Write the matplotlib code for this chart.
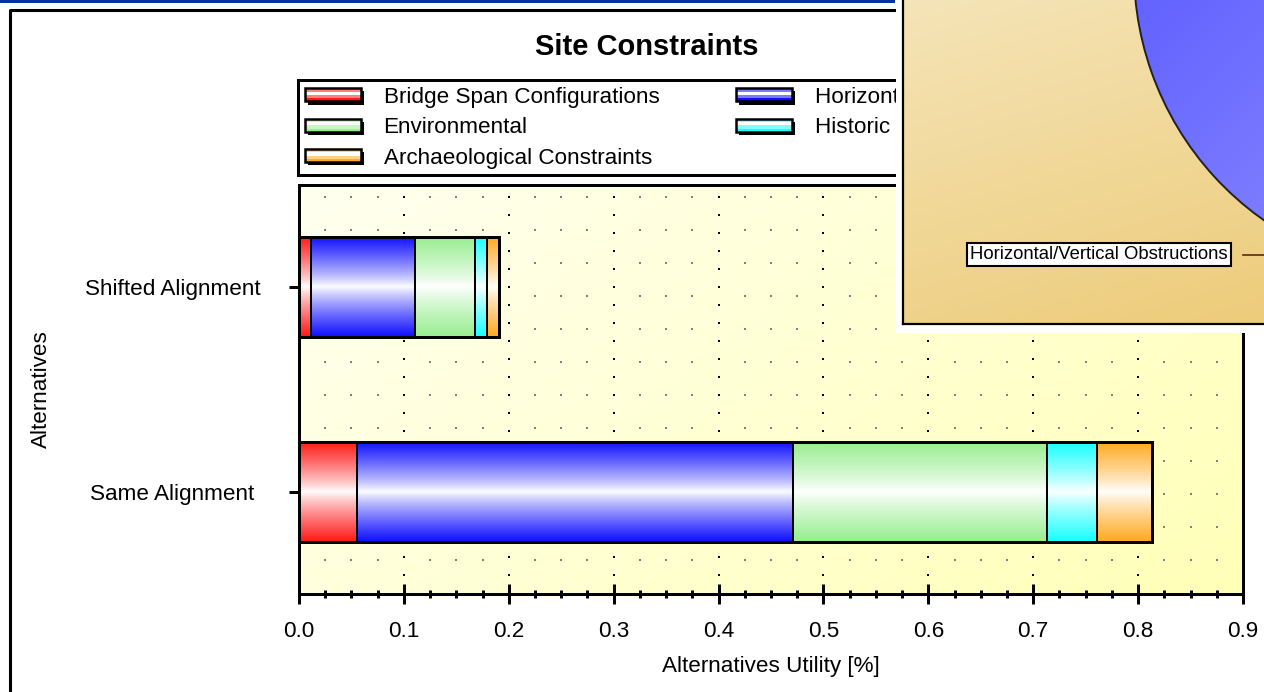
import numpy as np
import matplotlib
matplotlib.use("Agg")
import matplotlib.pyplot as plt
import matplotlib.colors as mcolors
from matplotlib.patches import Rectangle
from matplotlib.lines import Line2D
from matplotlib.legend_handler import HandlerBase
from matplotlib.ticker import MultipleLocator

plt.rcParams['font.family'] = ['Liberation Sans', 'DejaVu Sans']
plt.rcParams['lines.scale_dashes'] = False

# data
alternatives = ['Same Alignment', 'Shifted Alignment']
criteria = ['Bridge Span Configurations', 'Horizontal/Vertical Obstructions',
            'Environmental', 'Historic Properties', 'Archaeological Constraints']
colors = ['#ff1a1a', '#1010ff', '#98ee90', '#1affff', '#ffaa22']
same_vals = [0.055, 0.416, 0.242, 0.048, 0.052]
shifted_vals = [0.011, 0.100, 0.057, 0.011, 0.012]
legend_order = [0, 2, 4, 1, 3]
xticks = [0.0, 0.1, 0.2, 0.3, 0.4, 0.5, 0.6, 0.7, 0.8, 0.9]

W, H = 1264, 692
PX = 0.72  # points per pixel at dpi 100
FS = 16.2


def fx(x):
    return x / W


def fy(y):
    return 1 - y / H


def gradient(color, n=64):
    # full colour at top and bottom edge, white in the middle
    rgb = np.array(mcolors.to_rgb(color))
    t = np.abs(np.linspace(-1, 1, n))[:, None] ** 0.85
    return ((1 - t) + t * rgb)[:, None, :]


class GradHandler(HandlerBase):
    def create_artists(self, legend, orig_handle, xdescent, ydescent,
                       width, height, fontsize, trans):
        c = np.array(mcolors.to_rgb(orig_handle.get_facecolor()))
        h = 9.5
        x0 = -xdescent
        y0 = -ydescent + (height - h) / 2
        arts = [Rectangle((x0 + 2.2, y0 - 2.2), width, h, facecolor='black',
                          edgecolor='none', transform=trans)]
        stripes = [c, 1 - (1 - c) * 0.55, (1, 1, 1), 1 - (1 - c) * 0.55]
        sh = h / len(stripes)
        for k, sc in enumerate(stripes):
            arts.append(Rectangle((x0, y0 + k * sh), width, sh, facecolor=sc,
                                  edgecolor='none', transform=trans))
        arts.append(Rectangle((x0, y0), width, h, facecolor='none',
                              edgecolor='black', lw=1.8, transform=trans))
        return arts


fig = plt.figure(figsize=(W / 100, H / 100), dpi=100)

# window frame bits
fig.add_artist(Rectangle((0, fy(3)), fx(895), 3 / H, transform=fig.transFigure,
                         facecolor='#003399', edgecolor='none'))
fig.add_artist(Line2D([fx(10), fx(10), 1], [0, fy(10), fy(10)],
                      transform=fig.transFigure, color='black', lw=2.2))

ax = fig.add_axes([fx(299), fy(594), (1243 - 299) / W, (594 - 185) / H])

# plot background gradient
gx, gy = np.meshgrid(np.linspace(0, 1, 200), np.linspace(0, 1, 100))
g = np.clip(0.65 * gx + 0.35 * gy, 0, 1)[..., None]
bg = (1 - g) * np.array([1.0, 1.0, 0.94]) + g * np.array([1.0, 1.0, 0.72])
ax.imshow(bg, extent=[0, 1, 0, 1], transform=ax.transAxes, aspect='auto',
          zorder=0.1, interpolation='bilinear')

values = np.array([same_vals, shifted_vals])
ypos = np.arange(len(alternatives))
left = np.zeros(len(alternatives))
for j in range(len(criteria)):
    bars = ax.barh(ypos, values[:, j], left=left, height=0.49, facecolor='none',
                   edgecolor='black', linewidth=2 * PX, zorder=4)
    for b in bars:
        ax.imshow(gradient(colors[j]),
                  extent=[b.get_x(), b.get_x() + b.get_width(),
                          b.get_y(), b.get_y() + b.get_height()],
                  aspect='auto', zorder=3, interpolation='bilinear')
    left += values[:, j]
ax.barh(ypos, values.sum(axis=1), height=0.49, facecolor='none',
        edgecolor='black', linewidth=3 * PX, zorder=5)

ax.set_xlim(0, 0.9)
ax.set_ylim(-0.5, 1.5)
ax.set_xticks(xticks)
ax.set_xticklabels([f'{v:.1f}' for v in xticks])
ax.xaxis.set_minor_locator(MultipleLocator(0.025))
ax.set_yticks(ypos)
ax.set_yticklabels(alternatives)
for lbl in ax.get_yticklabels():
    lbl.set_ha('center')

ax.grid(which='major', axis='x', color='black', lw=2 * PX,
        linestyle=(0, (2 * PX, 16 * PX)), zorder=0.5)
ax.grid(which='minor', axis='x', color='#808080', lw=2 * PX,
        linestyle=(0, (2 * PX, 31 * PX)), zorder=0.5)
ax.grid(False, axis='y')

ax.tick_params(axis='x', which='major', direction='inout', length=20 * PX,
               width=3 * PX, pad=12, labelsize=FS)
ax.tick_params(axis='x', which='minor', direction='inout', length=8 * PX,
               width=3 * PX)
ax.tick_params(axis='y', direction='out', length=10 * PX, width=3 * PX,
               pad=84, labelsize=FS)
for s in ax.spines.values():
    s.set_linewidth(3 * PX)
    s.set_color('black')

# top ticks point inward only
top = ax.secondary_xaxis('top')
top.set_xticks(xticks)
top.xaxis.set_minor_locator(MultipleLocator(0.025))
top.tick_params(which='major', direction='in', length=10 * PX, width=3 * PX,
                labeltop=False)
top.tick_params(which='minor', direction='in', length=5 * PX, width=3 * PX)
top.spines['top'].set_linewidth(3 * PX)

ax.set_xlabel('Alternatives Utility [%]', fontsize=FS, labelpad=10)
ax.set_ylabel('Alternatives', fontsize=FS)
ax.yaxis.set_label_coords(-0.262, 0.5)

fig.text(fx(647), fy(47), 'Site Constraints', fontsize=21, fontweight='bold',
         ha='center', va='center')

handles = [Rectangle((0, 0), 1, 1, facecolor=colors[i]) for i in legend_order]
labels = [criteria[i] for i in legend_order]
leg = fig.legend(handles, labels, loc='upper left',
                 bbox_to_anchor=(fx(298), fy(80)), ncol=2, fontsize=FS,
                 handler_map={Rectangle: GradHandler()}, frameon=True,
                 fancybox=False, framealpha=1, edgecolor='black',
                 handlelength=2.5, handletextpad=1.0, columnspacing=3.4,
                 labelspacing=0.42, borderpad=0.3, borderaxespad=0)
leg.get_frame().set_linewidth(3 * PX)

# pie window laid over the top right corner
fig.add_artist(Rectangle((fx(896), fy(333)), 1 - fx(896), 333 / H,
                         transform=fig.transFigure, facecolor='white',
                         edgecolor='none', zorder=10))
ov = fig.add_axes([fx(903), fy(324), 1 - fx(903), 324 / H])
ov.set_zorder(11)
tx, ty = np.meshgrid(np.linspace(0, 1, 100), np.linspace(0, 1, 100))
tg = np.clip(0.75 * ty + 0.25 * tx, 0, 1)[..., None]
tan = (1 - tg) * np.array([0.96, 0.895, 0.72]) + tg * np.array([0.93, 0.80, 0.48])
ov.imshow(tan, extent=[0, 1, 0, 1], aspect='auto', origin='upper',
          interpolation='bilinear')
ov.set_xlim(0, 1)
ov.set_ylim(0, 1)
ov.set_xticks([])
ov.set_yticks([])
ov.spines['top'].set_visible(False)
ov.spines['right'].set_visible(False)
ov.spines['left'].set_linewidth(1.6)
ov.spines['bottom'].set_linewidth(1.6)

pa = fig.add_axes([fx(1440 - 306), fy(-30 + 306), 612 / W, 612 / H])
pa.set_zorder(12)
pie_colors = ['#ff5050', '#4a4aff', '#a8f0a0', '#50ffff', '#ffb84a']
wedges, _ = pa.pie(same_vals, colors=pie_colors, startangle=60, radius=1,
                   wedgeprops=dict(edgecolor='#222222', linewidth=1.4))
px_, py_ = np.meshgrid(np.linspace(0, 1, 120), np.linspace(0, 1, 120))
for w, c in zip(wedges, pie_colors):
    rgb = np.array(mcolors.to_rgb(c))
    t = np.clip(0.55 * px_ + 0.55 * py_, 0, 1)[..., None]
    img = (1 - t) * rgb + t * (1 - (1 - rgb) * 0.55)
    im = pa.imshow(img, extent=[-1, 1, -1, 1], origin='upper',
                   interpolation='bilinear', zorder=0.5)
    im.set_clip_path(w)
    w.set_facecolor('none')
    w.set_zorder(1)
pa.set_xlim(-1, 1)
pa.set_ylim(-1, 1)
pa.axis('off')

fig.text(fx(1099), fy(254.5), 'Horizontal/Vertical Obstructions', fontsize=13.3,
         ha='center', va='center', zorder=13,
         bbox=dict(boxstyle='square,pad=0.15', fc='white', ec='black', lw=1.5))
fig.add_artist(Line2D([fx(1243), 1], [fy(255), fy(255)], transform=fig.transFigure,
                      color='#5a2a1a', lw=1.2, zorder=13))

fig.savefig('out.png', dpi=100)
